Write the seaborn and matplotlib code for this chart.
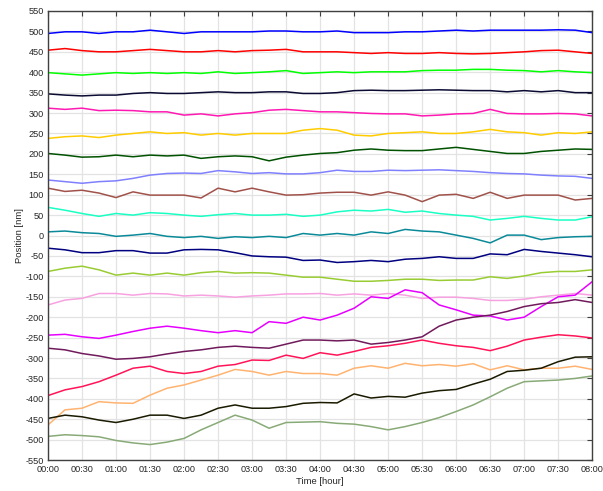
import numpy as np
import pandas as pd
import matplotlib
matplotlib.use("Agg")
import matplotlib.pyplot as plt
import seaborn as sns

# time axis: every 15 minutes, 00:00 .. 08:00 (hours)
time_h = [i * 0.25 for i in range(33)]

blue = [495, 499, 499, 495, 499, 499, 503, 499, 495, 499, 499, 499, 499, 501, 501, 499, 499,
        501, 497, 497, 497, 499, 499, 501, 503, 501, 503, 503, 503, 503, 504, 503, 497]
red = [454, 458, 453, 450, 450, 453, 456, 453, 450, 450, 453, 450, 453, 454, 456, 450, 450,
       450, 448, 446, 448, 446, 446, 448, 446, 445, 446, 448, 450, 453, 454, 450, 446]
lime = [399, 396, 393, 396, 399, 397, 399, 397, 399, 397, 401, 397, 399, 401, 404, 397, 399,
        401, 399, 401, 401, 401, 404, 405, 405, 407, 407, 405, 404, 401, 404, 401, 399]
darknavy = [347, 344, 342, 344, 344, 348, 350, 348, 348, 350, 352, 350, 350, 352, 352, 348, 348,
            350, 355, 356, 355, 355, 356, 357, 356, 355, 355, 352, 355, 352, 355, 350, 350]
pink = [312, 309, 312, 306, 307, 306, 303, 303, 295, 298, 293, 298, 301, 307, 309, 306, 303,
        303, 301, 299, 298, 298, 293, 295, 298, 299, 309, 299, 298, 298, 299, 298, 293]
gold = [238, 242, 244, 240, 246, 250, 254, 250, 252, 246, 250, 246, 250, 250, 250, 258, 262,
        258, 246, 244, 250, 252, 254, 250, 250, 254, 260, 254, 252, 246, 252, 250, 254]
darkgreen = [201, 197, 192, 193, 197, 193, 197, 195, 197, 189, 193, 195, 193, 183, 192, 197, 201,
             203, 209, 212, 209, 208, 208, 212, 216, 211, 206, 201, 201, 206, 209, 212, 211]
periwinkle = [136, 132, 128, 132, 134, 140, 148, 152, 153, 152, 159, 156, 152, 154, 151, 151, 154,
              160, 157, 157, 160, 159, 160, 161, 159, 157, 154, 152, 151, 148, 146, 145, 140]
brown = [116, 108, 111, 104, 93, 107, 99, 99, 99, 92, 116, 107, 116, 107, 99, 100, 104,
         106, 106, 99, 107, 99, 83, 99, 101, 91, 106, 91, 99, 99, 99, 87, 91]
aqua = [69, 62, 54, 47, 54, 50, 56, 54, 50, 47, 51, 54, 50, 50, 52, 47, 50,
        58, 62, 60, 64, 57, 60, 54, 50, 47, 38, 42, 47, 42, 38, 38, 46]
teal = [9, 11, 7, 5, -2, 1, 5, -2, -5, -2, -7, -3, -5, -2, -5, 5, 1,
        5, 1, 9, 5, 15, 11, 9, 1, -7, -18, 1, 1, -10, -5, -3, -2]
navy = [-31, -35, -42, -42, -37, -37, -43, -43, -35, -34, -35, -42, -50, -52, -53, -61, -60,
        -66, -64, -61, -64, -58, -56, -52, -56, -56, -45, -47, -34, -39, -43, -47, -52]
yellowgreen = [-88, -80, -75, -84, -97, -92, -97, -92, -97, -91, -88, -92, -91, -92, -97, -102, -102,
               -107, -112, -112, -110, -107, -107, -110, -109, -109, -101, -105, -99, -91, -88, -88, -84]
lightpink = [-170, -158, -154, -142, -142, -146, -142, -143, -148, -146, -148, -151, -148, -146, -143, -143, -142,
             -146, -143, -146, -142, -146, -154, -151, -151, -154, -159, -159, -156, -150, -146, -142, -146]
magenta = [-244, -242, -248, -252, -244, -235, -227, -222, -227, -233, -238, -233, -238, -211, -215, -200, -207,
           -195, -178, -150, -154, -133, -140, -170, -182, -195, -197, -207, -200, -174, -150, -146, -113]
plum = [-276, -280, -289, -295, -303, -301, -297, -290, -284, -280, -274, -271, -274, -276, -266, -256, -256,
        -258, -256, -266, -262, -256, -248, -222, -207, -200, -195, -186, -174, -167, -164, -157, -164]
crimson = [-392, -378, -370, -358, -342, -325, -320, -333, -338, -333, -320, -316, -305, -306, -293, -301, -287,
           -293, -284, -274, -270, -264, -256, -264, -270, -274, -282, -271, -256, -249, -243, -246, -251]
peach = [-464, -427, -423, -407, -410, -411, -391, -374, -366, -354, -342, -328, -333, -342, -333, -338, -338,
         -342, -325, -319, -325, -313, -319, -316, -320, -314, -329, -319, -329, -325, -325, -320, -328]
blackolive = [-448, -440, -444, -452, -458, -450, -440, -440, -448, -440, -423, -415, -423, -423, -419, -411, -409,
              -410, -388, -398, -394, -396, -386, -380, -377, -364, -352, -333, -330, -325, -309, -298, -297]
sage = [-492, -488, -490, -493, -502, -508, -512, -506, -497, -476, -458, -440, -452, -472, -458, -457, -456,
        -460, -462, -468, -476, -468, -458, -446, -431, -415, -395, -374, -358, -356, -354, -350, -344]

series_names = ["blue", "red", "lime", "darknavy", "pink", "gold", "darkgreen", "periwinkle",
                "brown", "aqua", "teal", "navy", "yellowgreen", "lightpink", "magenta", "plum",
                "crimson", "peach", "blackolive", "sage"]
series_values = [blue, red, lime, darknavy, pink, gold, darkgreen, periwinkle, brown, aqua, teal,
                 navy, yellowgreen, lightpink, magenta, plum, crimson, peach, blackolive, sage]
series_colors = ["#0000ff", "#ff0000", "#00ff00", "#0a0a33", "#ff19b3", "#ffcc00", "#005200",
                 "#8080ff", "#a0524a", "#19ffc4", "#0a8a99", "#000080", "#99cc33", "#f7a1e0",
                 "#e600ff", "#701a5c", "#ff1458", "#ffb370", "#1a1a00", "#88aa77"]

x_ticks = [i * 0.5 for i in range(17)]
x_tick_labels = ["00:00", "00:30", "01:00", "01:30", "02:00", "02:30", "03:00", "03:30", "04:00",
                 "04:30", "05:00", "05:30", "06:00", "06:30", "07:00", "07:30", "08:00"]
y_ticks = list(range(-550, 551, 50))

rows = []
for name, vals in zip(series_names, series_values):
    for t, v in zip(time_h, vals):
        rows.append((name, t, v))
df = pd.DataFrame(rows, columns=["series", "time", "position"])

sns.set_theme(style="white")
plt.rcParams["font.family"] = ["Liberation Sans", "DejaVu Sans"]

fig = plt.figure(figsize=(6.03, 4.91), dpi=100)
ax = fig.add_axes([0.0796, 0.063, 0.9025, 0.9146])

sns.lineplot(data=df, x="time", y="position", hue="series", hue_order=series_names,
             palette=dict(zip(series_names, series_colors)), linewidth=1.1,
             legend=False, ax=ax, estimator=None, sort=False)

ax.set_xlim(0, 8)
ax.set_ylim(-550, 550)
ax.set_xticks(x_ticks)
ax.set_xticklabels(x_tick_labels)
ax.set_yticks(y_ticks)
ax.set_yticklabels([str(v) for v in y_ticks])
ax.grid(True, color="#e3e3e3", linewidth=0.9)
ax.set_axisbelow(True)
ax.tick_params(direction="in", length=3.5, width=0.8, colors="#404040", labelsize=6.6,
               top=True, right=True, labelcolor="#262626")
ax.tick_params(axis="x", pad=3.5)
ax.tick_params(axis="y", pad=3.0)
for s in ax.spines.values():
    s.set_color("#404040")
    s.set_linewidth(1.0)
ax.set_xlabel("Time [hour]", fontsize=6.8, color="#262626", labelpad=2)
ax.set_ylabel("Position [nm]", fontsize=6.8, color="#262626", labelpad=1)

fig.savefig("out.png", dpi=100)
